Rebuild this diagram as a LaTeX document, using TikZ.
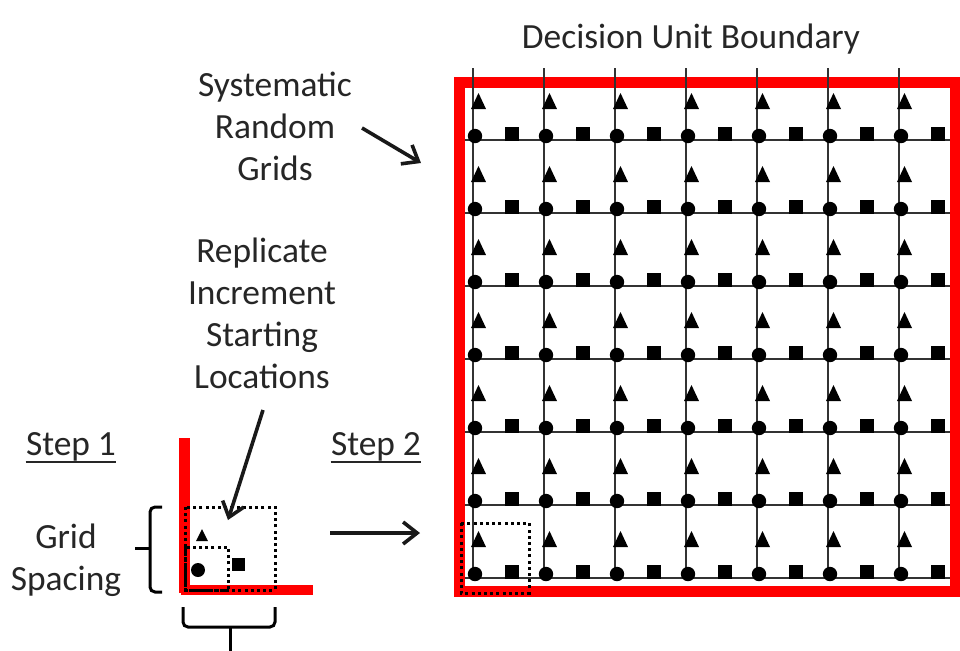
\documentclass[tikz,border=0pt]{standalone}
\usepackage{fontspec}
\setmainfont{Carlito}
\usetikzlibrary{arrows.meta}
\begin{document}
\begin{tikzpicture}[x=0.5pt,y=-0.5pt,
  txt/.style={font=\fontsize{17.7}{21}\selectfont, text=black!85, align=center, inner sep=0pt},
  boundary/.style={draw=red, line width=5.5pt},
  gridline/.style={draw=black!80, line width=1.2pt},
  dotline/.style={draw=black, line width=1.5pt, dash pattern=on 1.5pt off 1.6pt},
  pointer/.style={draw=black!90, line width=1.8pt, -{Straight Barb[length=7pt,width=11pt,line width=1.8pt]}},
  brace/.style={draw=black, line width=1.5pt, rounded corners=2.5pt},
  sample/.style={fill=black}
]
\useasboundingbox (0,0) rectangle (960,650);
\fill[white] (0,0) rectangle (960,650);

% ---------- decision unit with its systematic random grids ----------
\draw[boundary] (459,82) rectangle (955,591);
\foreach \i in {0,...,6} {
  \pgfmathsetmacro\vx{473+71*\i}
  \draw[gridline] (\vx,68) -- (\vx,580);
}
\foreach \j in {0,...,6} {
  \pgfmathsetmacro\hy{140+73*\j}
  \draw[gridline] (465,\hy) -- (950,\hy);
}
\foreach \i in {0,...,6} {
  \foreach \j in {0,...,6} {
    \pgfmathsetmacro\vx{473+71*\i}
    \pgfmathsetmacro\hy{140+73*\j}
    \fill[sample] (\vx+2,\hy-4) circle[radius=3.6pt];
    \fill[sample] (\vx+32,\hy-13) rectangle (\vx+46,\hy+1);
    \fill[sample] (\vx-2,\hy-31) -- (\vx+13,\hy-31) -- (\vx+5.5,\hy-47) -- cycle;
  }
}
\draw[dotline] (461,523) rectangle (529,593);

% ---------- step 1: one grid increment ----------
\draw[red, line width=5.5pt] (184,438) -- (184,593);
\draw[red, line width=5pt] (181,590) -- (313,590);
\draw[dotline] (185,507) rectangle (275,590);
\draw[dotline] (185,547) rectangle (228,590);
\fill[sample] (196,541) -- (208,541) -- (202,529) -- cycle;
\fill[sample] (198,570) circle[radius=3.5pt];
\fill[sample] (232,558) rectangle (245,571);

% braces marking the grid spacing
\draw[brace] (162,507) -- (150,507) -- (150,592) -- (162,592);
\draw[brace] (150,548) -- (135,548);
\draw[brace] (183,607) -- (183,627) -- (275,627) -- (275,607);
\draw[brace] (230,627) -- (230,655);

% ---------- labels ----------
\node[txt, anchor=base] (dub) at (691,48) {Decision Unit Boundary};
\node[txt] (srg) at (275,126) {Systematic\\Random\\Grids};
\node[txt] (risl) at (262,313) {Replicate\\Increment\\Starting\\Locations};
\node[txt] (gs) at (66,560) {Grid\\Spacing};
\node[txt, anchor=base] (s1) at (71,455) {Step 1};
\node[txt, anchor=base] (s2) at (376,455) {Step 2};
\draw[line width=1.2pt, black!85] ([yshift=-3.5pt]s1.base west) -- ([yshift=-3.5pt]s1.base east);
\draw[line width=1.2pt, black!85] ([yshift=-3.5pt]s2.base west) -- ([yshift=-3.5pt]s2.base east);

% ---------- arrows ----------
\coordinate (srgTail) at (362,128);
\coordinate (srgHead) at (421,163);
\coordinate (rislTail) at (263,410);
\coordinate (rislHead) at (228,520);
\coordinate (stepTail) at (330,533);
\coordinate (stepHead) at (420,533);
\draw[pointer] (srgTail) -- (srgHead);
\draw[pointer] (rislTail) -- (rislHead);
\draw[pointer] (stepTail) -- (stepHead);
\end{tikzpicture}
\end{document}
